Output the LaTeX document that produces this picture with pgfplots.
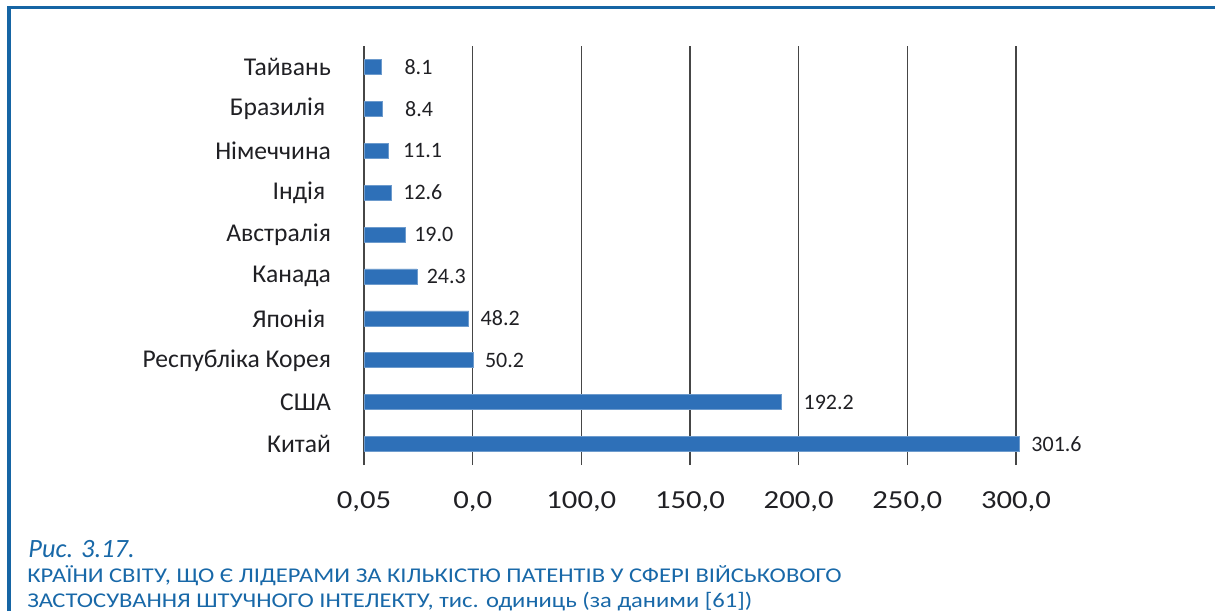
\documentclass[border=0pt]{standalone}
\usepackage{fontspec}
\setmainfont{Carlito}
\newfontfamily\capfont[FakeStretch=1.17]{Carlito}
\newfontfamily\tickfont[FakeStretch=1.18]{Carlito}
\usepackage{pgfplots}
\pgfplotsset{compat=1.18}
\usepackage{pgfplotstable}
\definecolor{framecol}{RGB}{22,101,164}
\definecolor{capcol}{RGB}{24,104,168}
\definecolor{barcol}{RGB}{46,112,184}
\definecolor{txt}{RGB}{32,32,36}
\definecolor{gridcol}{RGB}{70,70,70}
\pgfplotstableread{
y x dx
0 301.6 2.5
1 192.2 7.5
2 50.2 2.5
3 48.2 2.5
4 24.3 1.5
5 19.0 1.0
6 12.6 2.5
7 11.1 4.0
8 8.4 8.0
9 8.1 8.0
}\datatab
\begin{document}
\begin{tikzpicture}
\useasboundingbox (0,0) rectangle (607.5pt,-305.5pt);
\draw[framecol, line width=1.6pt] (4.5pt,-305.5pt) -- (4.5pt,-3.6pt) -- (607.5pt,-3.6pt);
\begin{axis}[
  at={(182pt,-232.5pt)}, anchor=south west,
  scale only axis, width=326pt, height=209.5pt,
  xbar, bar width=7.5pt,
  xmin=0, xmax=300, ymin=-0.5, ymax=9.5,
  clip=false,
  axis line style={draw=none},
  major tick length=0pt,
  xtick={0,50,100,150,200,250,300},
  xticklabels={{0,05},{0,0},{100,0},{150,0},{200,0},{250,0},{300,0}},
  xmajorgrids, grid style={gridcol, line width=0.6pt},
  ytick={0,...,9},
  yticklabels={Китай,США,Республіка Корея,Японія\ \ ,Канада,Австралія,Індія\ \ ,Німеччина,Бразилія\ \ ,Тайвань},
  xticklabel style={font=\tickfont\fontsize{13pt}{15pt}\selectfont, text=txt, yshift=-9.8pt},
  yticklabel style={font=\fontsize{12.8pt}{14pt}\selectfont, text=txt, xshift=-13pt},
  /pgf/number format/assume math mode=true,
  point meta=x,
  visualization depends on={\thisrow{dx} \as \dx},
  nodes near coords={\pgfmathprintnumber[fixed,fixed zerofill,precision=1]{\pgfplotspointmeta}},
  every node near coord/.append style={font=\fontsize{11pt}{13pt}\selectfont, text=txt, anchor=west, xshift=\dx pt},
]
\addplot[fill=barcol, draw=barcol!70!white, line width=0.3pt] table[x=x,y=y] {\datatab};
\end{axis}
\node[anchor=base west, inner sep=0pt, text=capcol, font=\fontsize{13.2pt}{16pt}\selectfont\itshape] at (14pt,-278.5pt) {Рис. 3.17.};
\node[anchor=base west, inner sep=0pt, text=capcol, font=\capfont\fontsize{10.5pt}{12pt}\selectfont] at (13.5pt,-291pt) {КРАЇНИ СВІТУ, ЩО Є ЛІДЕРАМИ ЗА КІЛЬКІСТЮ ПАТЕНТІВ У СФЕРІ ВІЙСЬКОВОГО};
\node[anchor=base west, inner sep=0pt, text=capcol, font=\capfont\fontsize{10.5pt}{12pt}\selectfont] at (13.5pt,-303.5pt) {ЗАСТОСУВАННЯ ШТУЧНОГО ІНТЕЛЕКТУ, тис. одиниць (за даними [61])};
\end{tikzpicture}
\end{document}
